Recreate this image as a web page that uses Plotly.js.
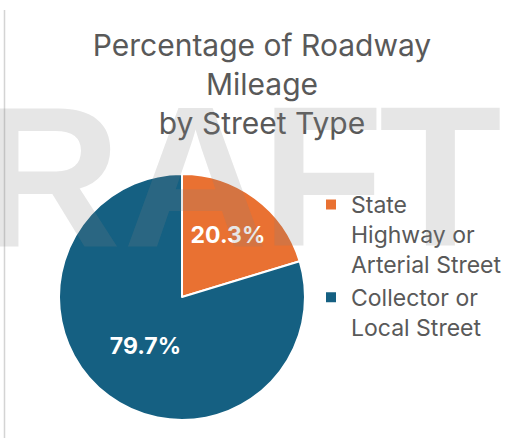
<!DOCTYPE html>
<html><head><meta charset="utf-8">
<script src="https://cdn.plot.ly/plotly-3.0.1.min.js"></script>
<style>html,body{margin:0;padding:0;background:#fff;} #chart{width:505px;height:438px;}</style>
</head><body><div id="chart"></div>
<script>
// ---- data ----
const categories = ["State<br>Highway or<br>Arterial Street", "Collector or<br>Local Street"];
const shares = [20.3, 79.7];
const sliceColors = ["#E97132", "#156082"];
const titleLines = ["Percentage of Roadway", "Mileage", "by Street Type"];
const watermarkLetters = ["D", "R", "A", "F", "T"];

// ---- layout helpers ----
const W = 505, H = 438;
const letterCenters = [-97, 48, 195, 322, 440];
const px = v => v / W;
const py = v => 1 - v / H;

const watermark = watermarkLetters.map((ch, i) => ({
  text: ch, xref: 'paper', yref: 'paper',
  x: px(letterCenters[i]), y: py(176), xanchor: 'center', yanchor: 'middle',
  showarrow: false,
  font: {family: 'Liberation Sans', size: 201, weight: 'bold', color: 'rgba(128,128,128,0.2)'}
}));

const trace = {
  type: 'pie',
  labels: categories,
  values: shares,
  sort: false,
  direction: 'clockwise',
  rotation: 0,
  marker: {colors: sliceColors, line: {color: '#ffffff', width: 2}},
  texttemplate: '%{percent:.1%}',
  textposition: 'inside',
  insidetextorientation: 'horizontal',
  textfont: {family: 'Inter', size: 23, weight: 'bold', color: '#ffffff'},
  domain: {x: [px(59), px(305)], y: [18 / H, 264 / H]},
  hoverinfo: 'skip'
};

const layout = {
  width: W, height: H,
  margin: {l: 0, r: 0, t: 0, b: 0, autoexpand: false},
  paper_bgcolor: '#ffffff',
  title: {
    text: titleLines.join('<br>'),
    x: px(262), xanchor: 'center', xref: 'container',
    y: py(56), yanchor: 'top', yref: 'container',
    font: {family: 'Inter', size: 30, color: '#595959'}
  },
  showlegend: true,
  legend: {
    x: px(311), xanchor: 'left', y: py(183), yanchor: 'top',
    valign: 'top', bgcolor: 'rgba(0,0,0,0)',
    font: {family: 'Inter', size: 23, color: '#595959'}
  },
  shapes: [{
    type: 'line', xref: 'paper', yref: 'paper',
    x0: px(4.5), x1: px(4.5), y0: 0, y1: py(10),
    line: {color: '#d4d4d4', width: 1.5}
  }],
  annotations: watermark
};

Plotly.newPlot('chart', [trace], layout, {displayModeBar: false, staticPlot: true});
</script>
</body></html>
